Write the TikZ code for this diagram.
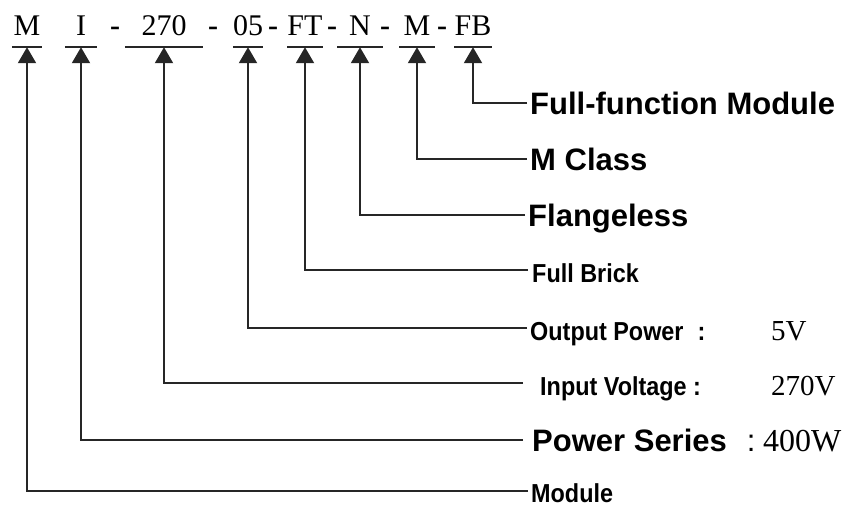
\documentclass[tikz,border=0pt]{standalone}
\usepackage{fontspec}
\setmainfont{Liberation Serif}
\setsansfont{Liberation Sans}
\newfontfamily\narrowsans[FakeStretch=0.9]{Liberation Sans}
\usetikzlibrary{arrows.meta}

\tikzset{
  code/.style={anchor=base, font=\fontsize{30}{36}\selectfont, text depth=0pt, inner ysep=12pt, inner xsep=0pt},
  sep/.style={anchor=base, font=\bfseries\fontsize{30}{36}\selectfont, inner sep=0pt},
  biglbl/.style={anchor=west, font=\sffamily\bfseries\fontsize{31}{36}\selectfont, text height=22pt, text depth=0pt, inner ysep=0pt, inner xsep=3pt},
  midlbl/.style={anchor=west, font=\narrowsans\bfseries\fontsize{26}{30}\selectfont, text height=24pt, text depth=0pt, inner ysep=0pt, inner xsep=3pt},
  val/.style={anchor=base west, font=\fontsize{29}{34}\selectfont, inner sep=0pt},
  conn/.style={line width=2pt, black!85, -{Triangle[width=18pt,length=16pt]}},
  uline/.style={line width=2pt, black!85},
}

\begin{document}
\begin{tikzpicture}[x=1pt, y=-1pt]

        \useasboundingbox (0,0) rectangle (856,507);

        % Model code
        \node[code, minimum width=30pt] (cM) at (27,35) {M};
        \node[code, minimum width=32pt] (cI) at (81,35) {I};
        \node[sep] (d1) at (115,35) {-};
        \node[code, minimum width=78pt] (cVin) at (164,35) {270};
        \node[sep] (d2) at (213,35) {-};
        \node[code, minimum width=30pt] (cVout) at (248,35) {05};
        \node[sep] (d3) at (273,35) {-};
        \node[code, minimum width=34pt] (cFT) at (305,35) {FT};
        \node[sep] (d4) at (332,35) {-};
        \node[code, minimum width=45pt] (cN) at (360,35) {N};
        \node[sep] (d5) at (385,35) {-};
        \node[code, minimum width=35pt] (cMc) at (417,35) {M};
        \node[sep] (d6) at (442,35) {-};
        \node[code, minimum width=33pt] (cFB) at (473,35) {FB};

        % Underlines
        \foreach \n in {cM,cI,cVin,cVout,cFT,cN,cMc,cFB}
            \draw[uline] (\n.south west) -- (\n.south east);

        % Labels
        \node[biglbl] (lFB) at (527,103) {Full-function Module};
        \node[biglbl] (lMc) at (527,159) {M Class};
        \node[biglbl] (lN) at (525,215) {Flangeless};
        \node[midlbl, inner xsep=4pt] (lFT) at (528,270) {Full Brick};
        \node[midlbl] (lVout) at (527,328) {Output Power\hspace{14pt}:};
        \node[midlbl, inner xsep=17pt] (lVin) at (523,383) {Input Voltage :};
        \node[biglbl, inner xsep=9pt] (lI) at (523,440) {Power Series\hspace{20pt}{\mdseries:}};
        \node[midlbl, text height=22pt] (lM) at (528,491) {Module};

        % Values
        \node[val] (vVout) at (771,340) {5V};
        \node[val] (vVin) at (771,395) {270V};
        \node[val, font=\fontsize{32}{36}\selectfont] (vI) at (763,451) {400W};

        % Connectors
        \foreach \l/\c in {lFB/cFB, lMc/cMc, lN/cN, lFT/cFT, lVout/cVout, lVin/cVin, lI/cI, lM/cM}
            \draw[conn] (\l.west) -| (\c.south);

\end{tikzpicture}
\end{document}
